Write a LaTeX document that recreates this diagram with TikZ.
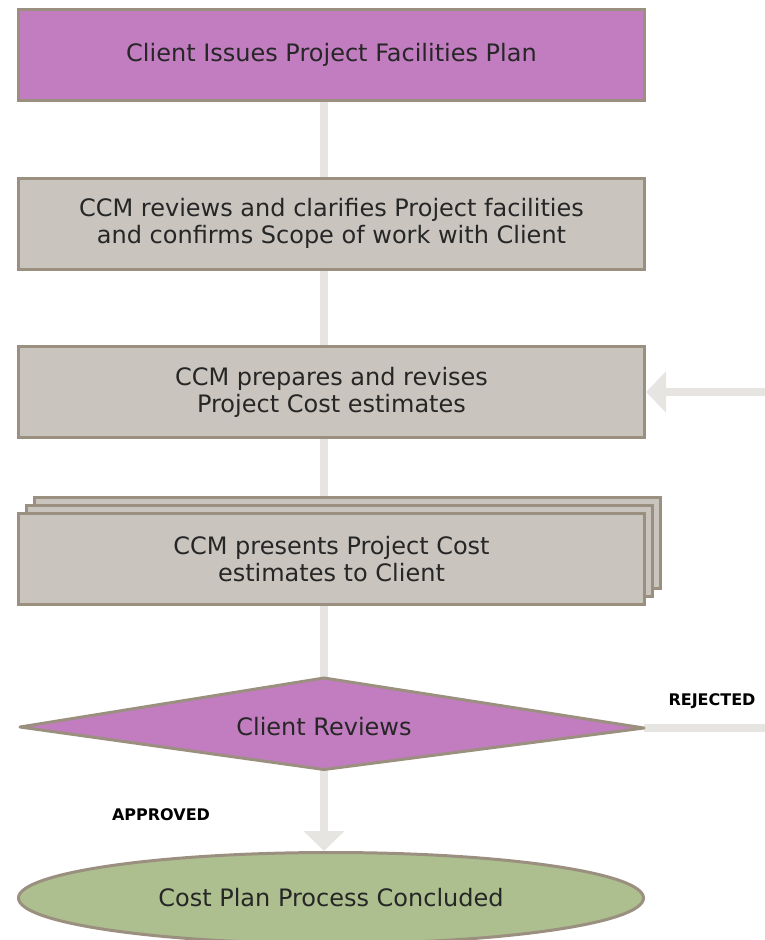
\documentclass[tikz,border=0pt]{standalone}
\usepackage{fontspec}
\setmainfont{DejaVu Sans}
\usetikzlibrary{arrows.meta,shapes.geometric,backgrounds}

\definecolor{procpurple}{HTML}{C27DC0}
\definecolor{stepgray}{HTML}{C9C5BE}
\definecolor{edgebrown}{HTML}{9B9080}
\definecolor{endgreen}{HTML}{ADBF8F}
\definecolor{flowgray}{HTML}{E6E5E1}
\definecolor{inktext}{HTML}{262626}

\tikzset{
  stepbox/.style={draw=edgebrown, fill=stepgray, line width=3pt,
    minimum width=626pt, minimum height=91pt, inner sep=0pt,
    align=center, text=inktext, font=\fontsize{24}{27}\selectfont},
  startbox/.style={stepbox, fill=procpurple},
  decision/.style={draw=edgebrown, fill=procpurple, line width=3pt, line join=round},
  endoval/.style={ellipse, draw=edgebrown, fill=endgreen, line width=3pt,
    minimum width=625pt, minimum height=91pt, inner sep=0pt,
    text=inktext, font=\fontsize{24}{27}\selectfont},
  maintext/.style={text=inktext, font=\fontsize{24}{27}\selectfont, inner sep=0pt},
  flowlabel/.style={font=\fontsize{16}{19}\selectfont\bfseries, text=black, inner sep=0pt},
  flow/.style={draw=flowgray, line width=8pt},
  flowarrow/.style={flow, -{Triangle[width=40pt,length=20pt]}}
}

\begin{document}
\begin{tikzpicture}[x=1pt,y=-1pt]
\useasboundingbox (0,0) rectangle (765,940);

% vertical spine of the flow
\coordinate (spine) at (324,0);

% process steps
\node[startbox] (p1) at (331.5,55) {Client Issues Project Facilities Plan};
\node[stepbox] (p2) at (331.5,223.5) {CCM reviews and clarifies Project facilities\\and confirms Scope of work with Client};
\node[stepbox] (p3) at (331.5,392) {CCM prepares and revises\\Project Cost estimates};

% stacked sheets behind the presentation step
\node[stepbox] (p4back) at (347.5,543) {};
\node[stepbox] (p4mid) at (339.5,551) {};
\node[stepbox] (p4) at (331.5,559) {CCM presents Project Cost\\estimates to Client};

% decision
\coordinate (revL) at (20,727);
\coordinate (revT) at (324,678);
\coordinate (revR) at (644,728);
\coordinate (revB) at (324,769.5);
\draw[decision] (revL) -- (revT) -- (revR) -- (revB) -- cycle;
\node[maintext] (rev) at (324,727) {Client Reviews};

% terminal
\node[endoval] (done) at (331,898) {Cost Plan Process Concluded};

% loop ends leaving the frame
\coordinate (loopout) at (765,728);
\coordinate (loopin) at (765,392);

% branch labels
\node[flowlabel] (rejlbl) at (712,701) {REJECTED};
\node[flowlabel] (applbl) at (161,815) {APPROVED};

\begin{scope}[on background layer]
  \draw[flow] (p1.south -| spine) -- (p2.north -| spine);
  \draw[flow] (p2.south -| spine) -- (p3.north -| spine);
  \draw[flow] (p3.south -| spine) -- (p4.north -| spine);
  \draw[flow] (p4.south -| spine) -- (revT);
  \draw[flowarrow] (revB) -- (done.north -| spine);
  \draw[flow] (revR) -- (loopout);
  \draw[flowarrow] (loopin) -- (p3.east);
\end{scope}
\end{tikzpicture}
\end{document}
